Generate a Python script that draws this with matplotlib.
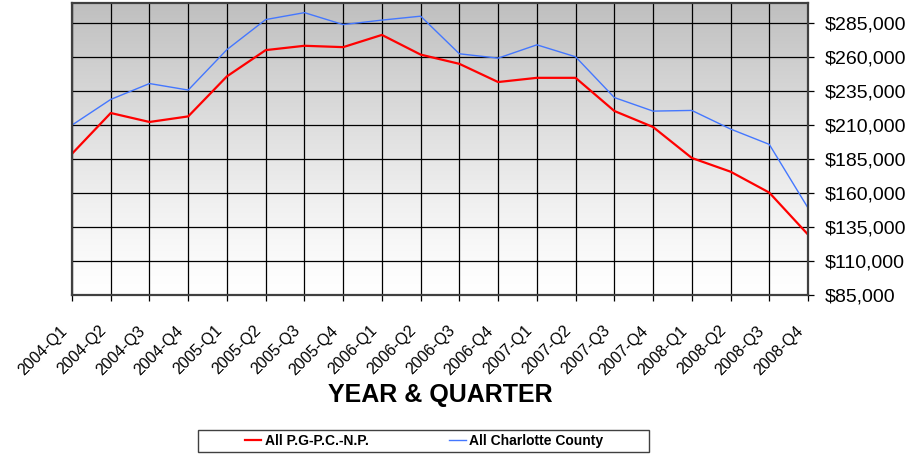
import numpy as np
import matplotlib
matplotlib.use("Agg")
import matplotlib.pyplot as plt
from matplotlib.ticker import FuncFormatter
from matplotlib.patches import Rectangle
import matplotlib.transforms as mtransforms

plt.rcParams['font.family'] = ['Liberation Sans', 'DejaVu Sans']

# --- data ---
quarters = ['2004-Q1', '2004-Q2', '2004-Q3', '2004-Q4',
            '2005-Q1', '2005-Q2', '2005-Q3', '2005-Q4',
            '2006-Q1', '2006-Q2', '2006-Q3', '2006-Q4',
            '2007-Q1', '2007-Q2', '2007-Q3', '2007-Q4',
            '2008-Q1', '2008-Q2', '2008-Q3', '2008-Q4']
pgpc_np = [189000, 219000, 212400, 216500, 246000, 265300, 268500, 267500,
           276500, 262000, 255200, 241800, 244900, 244900, 220500, 208700,
           185900, 175800, 160400, 129500]
charlotte = [210100, 229000, 240700, 235900, 265700, 287800, 292900, 284100,
             287400, 290300, 262600, 259400, 269200, 260400, 230400, 220400,
             220900, 207200, 195900, 149100]
y_ticks = list(range(85000, 285001, 25000))

W, H = 905, 454
fig = plt.figure(figsize=(W / 100, H / 100), dpi=100)
ax = fig.add_axes([72 / W, 1 - 295 / H, (808 - 72) / W, (295 - 3) / H])

x = np.arange(len(quarters))
ax.set_xlim(0, len(quarters) - 1)
ax.set_ylim(85000, 300000)

# gradient background (gray top -> white bottom)
f = np.linspace(0, 1, 256).reshape(-1, 1)
g = (255 - 64 * f ** 1.25) / 255.0
grad = np.dstack([g, g, g])
ax.imshow(grad, extent=[0, len(quarters) - 1, 85000, 300000], origin='lower',
          aspect='auto', zorder=0, interpolation='bilinear')

# grid
for yv in y_ticks:
    ax.axhline(yv, color='black', lw=0.9, zorder=1)
for xv in x:
    ax.axvline(xv, color='black', lw=0.9, zorder=1)

ax.plot(x, pgpc_np, color='#FF0000', lw=1.6, zorder=3, label='All P.G-P.C.-N.P.')
ax.plot(x, charlotte, color='#4477FF', lw=1.0, zorder=3, label='All Charlotte County')

for s in ax.spines.values():
    s.set_color('#404040')
    s.set_linewidth(1.6)
    s.set_zorder(4)

ax.yaxis.tick_right()
ax.set_yticks(y_ticks)
ax.yaxis.set_major_formatter(FuncFormatter(lambda v, p: '${:,.0f}'.format(v)))
ax.tick_params(axis='y', direction='out', length=4, width=0.9, pad=8, labelsize=14)
ax.set_xticks(x)
ax.set_xticklabels(quarters, rotation=45, ha='right', va='center', rotation_mode='anchor')
ax.tick_params(axis='x', direction='out', length=4, width=0.9, pad=20, labelsize=11.5)
offset = mtransforms.ScaledTranslation(-7 / 100, 0, fig.dpi_scale_trans)
for lbl in ax.get_xticklabels():
    lbl.set_transform(lbl.get_transform() + offset)

fig.text(440 / W, 1 - 395 / H, 'YEAR & QUARTER', ha='center', va='center',
         fontsize=18, fontweight='bold')

# legend with a separate frame
fig.patches.append(Rectangle((198 / W, 1 - 452 / H), (649 - 198) / W, 22 / H,
                             transform=fig.transFigure, fill=False,
                             edgecolor='#404040', lw=1.0))
leg = fig.legend(loc='center', bbox_to_anchor=(424 / W, 1 - 441 / H), ncol=2,
                 frameon=False, handlelength=1.2, handletextpad=0.25,
                 columnspacing=5.8, prop={'weight': 'bold', 'size': 10})

fig.savefig('out.png', dpi=100)
